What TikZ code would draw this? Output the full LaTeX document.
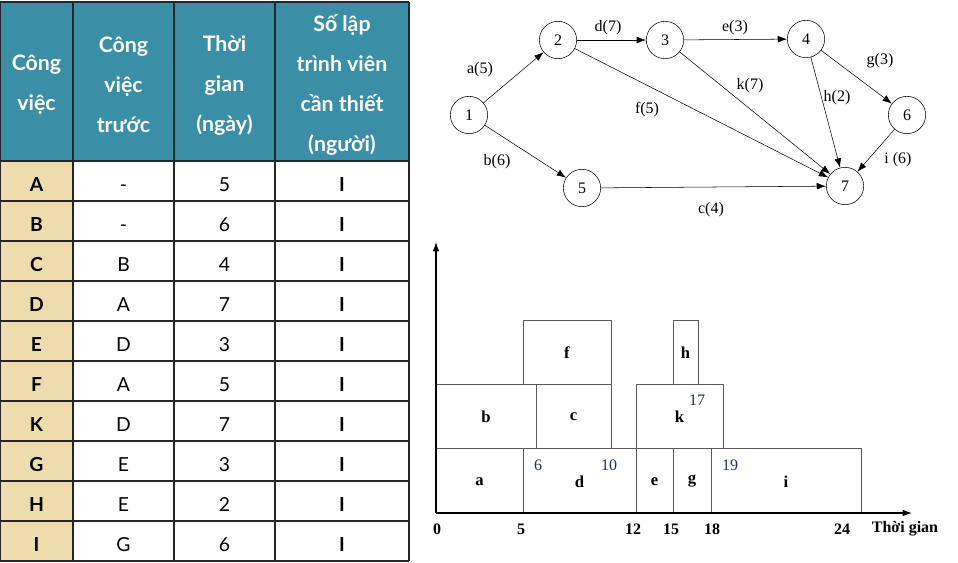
\documentclass[tikz,border=0pt]{standalone}
\usepackage{fontspec}
\setmainfont{Liberation Serif}
\newfontfamily\gill{Lato}
\usetikzlibrary{arrows.meta}

\definecolor{headteal}{HTML}{3A8EA6}
\definecolor{jobtan}{HTML}{EFDCAE}
\definecolor{numblue}{HTML}{1F2F5F}

\begin{document}
\begin{tikzpicture}
    [x=0.75pt,y=-0.75pt,
     head/.style={align=center,text=white,font=\gill\bfseries\fontsize{16}{30}\selectfont},
     cell/.style={anchor=base,font=\gill\fontsize{14.5}{18}\selectfont},
     cellb/.style={anchor=base,font=\gill\bfseries\fontsize{14.5}{18}\selectfont},
     ev/.style={circle,draw,thin,minimum size=28pt,inner sep=0pt,font=\fontsize{12}{14}\selectfont},
     act/.style={-{Latex[length=7pt,width=5pt]},thin},
     lbl/.style={font=\fontsize{12}{14}\selectfont},
     bar/.style={draw=black!65,line width=0.7pt},
     barlbl/.style={font=\bfseries\fontsize{12.5}{14}\selectfont},
     tick/.style={font=\bfseries\fontsize{12}{14}\selectfont}]
    \useasboundingbox (0,0) rectangle (958,562);
    % table
    \fill[headteal] (0,2) rectangle (409,161);
    \fill[jobtan] (0,161) rectangle (73,561);
    \foreach \gx in {0.8,73,174,275,409}
      \draw[black!85,line width=1pt] (\gx,2) -- (\gx,561);
    \foreach \gy in {2,161,201,241,281,321,361,401,441,481,521,561}
      \draw[black!85,line width=1pt] (0,\gy) -- (409,\gy);
    \node[head] (hjob) at (36.5,85) {Công\\việc};
    \node[head] (hpre) at (123.5,85) {Công\\việc\\trước};
    \node[head] (hdur) at (224.5,85) {Thời\\gian\\(ngày)};
    \node[head] (hnum) at (342,85) {Số lập\\trình viên\\cần thiết\\(người)};
    \foreach \job/\pre/\dur [count=\i] in {A/-/5,B/-/6,C/B/4,D/A/7,E/D/3,F/A/5,K/D/7,G/E/3,H/E/2,I/G/6}{
      \pgfmathsetmacro\ry{151+40*\i}
      \node[cellb] (job\i) at (36.5,\ry) {\job};
      \node[cell] (pre\i) at (123.5,\ry) {\pre};
      \node[cell] (dur\i) at (224.5,\ry) {\dur};
      \node[cellb] (num\i) at (342,\ry) {I};
    }
    % network
    \node[ev] (n1) at (469,115) {1};
    \node[ev] (n2) at (558,40) {2};
    \node[ev] (n3) at (665,40) {3};
    \node[ev] (n4) at (806,39) {4};
    \node[ev] (n5) at (582,188) {5};
    \node[ev] (n6) at (907,115) {6};
    \node[ev] (n7) at (845,186) {7};
    \draw[act] (n1) -- (n2);
    \draw[act] (n1) -- (n5);
    \draw[act] (n2) -- (n3);
    \draw[act] (n2) -- (n7);
    \draw[act] (n3) -- (n4);
    \draw[act] (n3) -- (n7);
    \draw[act] (n4) -- (n6);
    \draw[act] (n4) -- (n7);
    \draw[act] (n6) -- (n7);
    \draw[act] (n5) -- (n7);
    \node[lbl] (la) at (480,70) {a(5)};
    \node[lbl] (lb) at (497,162) {b(6)};
    \node[lbl] (lc) at (711,210) {c(4)};
    \node[lbl] (ld) at (608,28) {d(7)};
    \node[lbl] (le) at (735,28) {e(3)};
    \node[lbl] (lf) at (647,110) {f(5)};
    \node[lbl] (lg) at (880,61) {g(3)};
    \node[lbl] (lh) at (837,98) {h(2)};
    \node[lbl] (li) at (898,160) {i (6)};
    \node[lbl] (lk) at (750,86) {k(7)};
    % gantt chart
    \coordinate (orig) at (436,513);
    \coordinate (xend) at (912,513);
    \coordinate (yend) at (436,242);
    \foreach \xa/\xb/\ya/\yb/\name in {436/523/448/513/a,523/636/448/513/d,636/673/448/513/e,
        673/711/448/513/g,711/861/448/513/i,436/536/384/448/b,536/611/384/448/c,
        636/723/384/448/k,523/611/320/384/f,673/698/320/384/h}{
      \draw[bar] (\xa,\ya) rectangle (\xb,\yb);
      \node[barlbl] (bar\name) at ({(\xa+\xb)/2},{(\ya+\yb)/2+1}) {\name};
    }
    \draw[-{Latex[length=7pt,width=5pt]},line width=0.8pt] (orig) -- (xend);
    \draw[-{Latex[length=7pt,width=5pt]},line width=0.8pt] (orig) -- (yend);
    \node[lbl,text=numblue] (m6) at (538,465) {6};
    \node[lbl,text=numblue] (m10) at (609,465) {10};
    \node[lbl,text=numblue] (m19) at (730,465) {19};
    \node[lbl,text=numblue] (m17) at (697,400) {17};
    \node[tick] (t0) at (437,529) {0};
    \node[tick] (t5) at (521,529) {5};
    \node[tick] (t12) at (633,529) {12};
    \node[tick] (t15) at (671,529) {15};
    \node[tick] (t18) at (712,529) {18};
    \node[tick] (t24) at (842,529) {24};
    \node[tick] (tname) at (905,529) {Thời gian};
  \end{tikzpicture}
\end{document}
